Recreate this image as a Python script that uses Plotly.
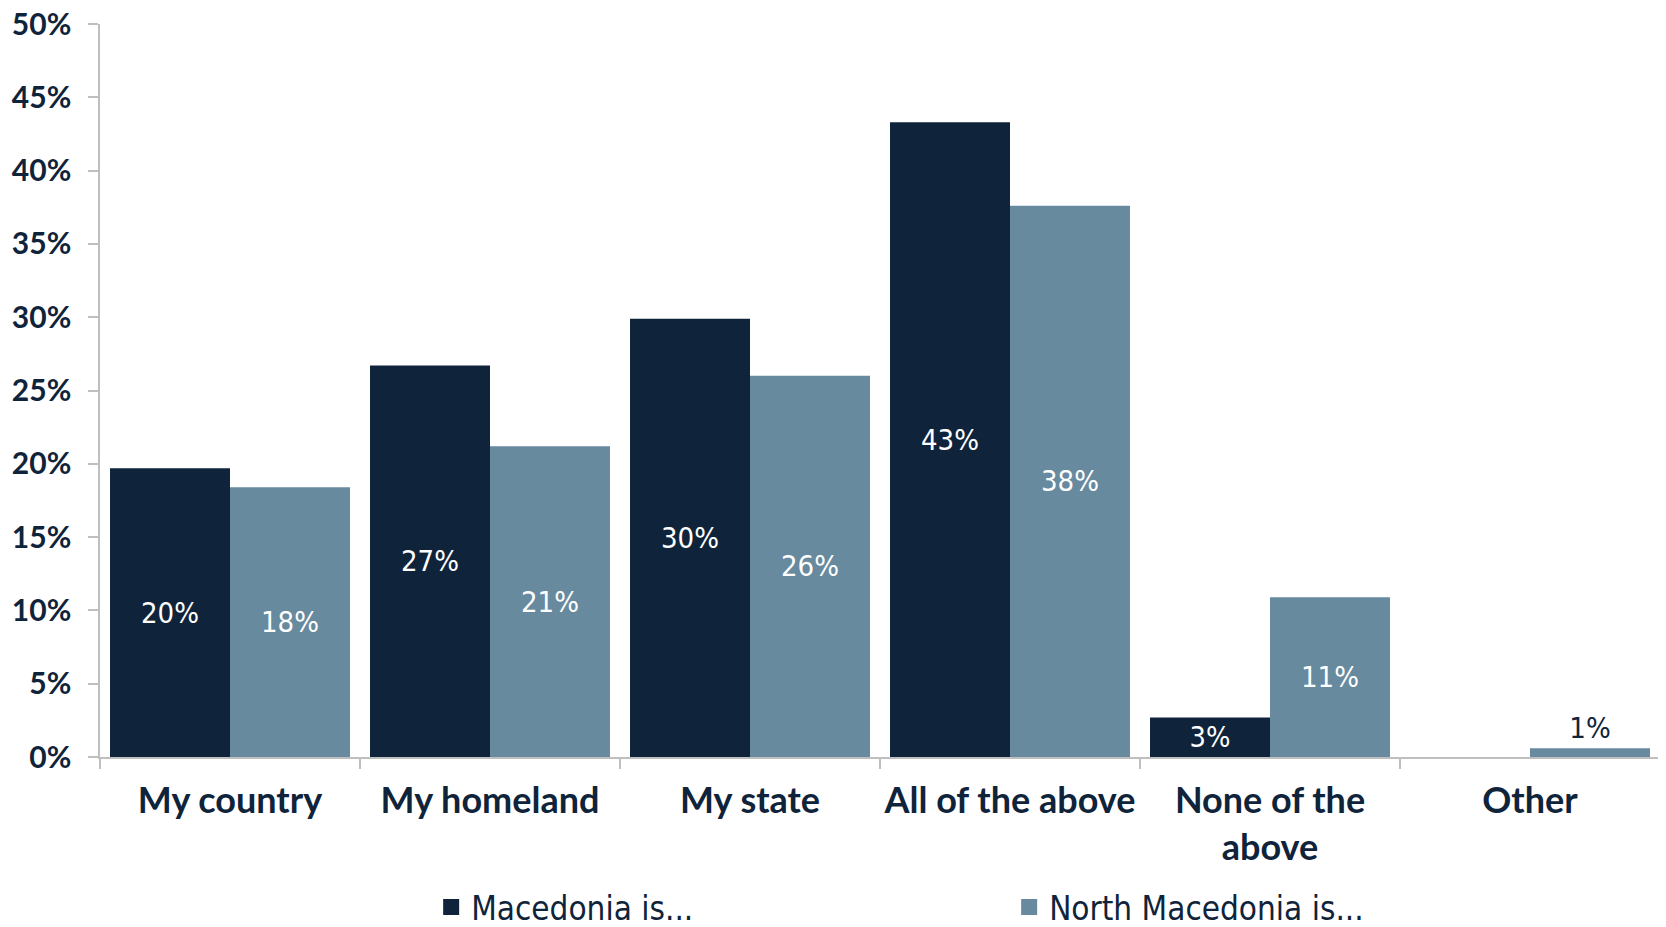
import plotly.graph_objects as go

categories = ["My country", "My homeland", "My state", "All of the above", "None of the<br>above", "Other"]
macedonia = [19.7, 26.7, 29.9, 43.3, 2.7, 0.0]
north_macedonia = [18.4, 21.2, 26.0, 37.6, 10.9, 0.6]
series_names = ["Macedonia is...", "North Macedonia is..."]
y_ticks = [0, 5, 10, 15, 20, 25, 30, 35, 40, 45, 50]

DARK = "#0F243B"
LIGHT = "#678A9E"
NARROW = "Liberation Sans Narrow, DejaVu Sans Condensed, sans-serif"
BOLD = "Lato, Open Sans, sans-serif"

def labels(vals):
    return ["" if v == 0 else f"{round(v)}%" for v in vals]

fig = go.Figure()
fig.add_trace(go.Bar(
    x=categories, y=macedonia, name=series_names[0], showlegend=False,
    marker=dict(color=DARK, line=dict(width=0)),
    text=labels(macedonia), textposition="inside", insidetextanchor="middle",
    textangle=0,
    insidetextfont=dict(family=NARROW, size=29, color="white"),
    cliponaxis=False,
))
fig.add_trace(go.Bar(
    x=categories, y=north_macedonia, name=series_names[1], showlegend=False,
    marker=dict(color=LIGHT, line=dict(width=0)),
    text=labels(north_macedonia),
    textposition=["inside"] * 5 + ["outside"], insidetextanchor="middle",
    textangle=0,
    insidetextfont=dict(family=NARROW, size=29, color="white"),
    outsidetextfont=dict(family=NARROW, size=29, color=DARK),
    cliponaxis=False,
))
# legend entries with larger square swatches
for name, color in zip(series_names, [DARK, LIGHT]):
    fig.add_trace(go.Scatter(
        x=[None], y=[None], mode="markers", name=name,
        marker=dict(symbol="square", size=19, color=color),
    ))

fig.update_layout(
    width=1666, height=927,
    margin=dict(l=92, r=14, t=16, b=178),
    paper_bgcolor="white", plot_bgcolor="white",
    barmode="group", bargap=0.077, bargroupgap=0,
    showlegend=True,
    legend=dict(
        orientation="h", xref="container", yref="container",
        x=0.254, xanchor="left", y=0.0, yanchor="bottom",
        font=dict(family=NARROW, size=33, color=DARK),
        entrywidth=533, itemwidth=30, itemsizing="trace",
    ),
    font=dict(family=BOLD, color=DARK),
)
fig.update_yaxes(
    range=[0, 50], tickvals=y_ticks, ticktext=[f"{t}%" for t in y_ticks],
    showgrid=False, zeroline=False, automargin=False,
    showline=True, linecolor="#BFBFBF", linewidth=1.5,
    ticks="outside", ticklen=10, tickcolor="#BFBFBF", tickwidth=1.5,
    ticklabelstandoff=11, ticklabeloverflow="allow",
    tickfont=dict(family=BOLD, size=30, color=DARK, weight="bold"),
)
fig.update_xaxes(
    range=[-0.5, 5.5], tickangle=0,
    showgrid=False, zeroline=False, automargin=False,
    showline=True, linecolor="#BFBFBF", linewidth=1.5,
    ticks="outside", ticklen=10, tickcolor="#BFBFBF", tickwidth=1.5,
    tickson="boundaries", ticklabelstandoff=11,
    tickfont=dict(family=BOLD, size=36, color=DARK, weight="bold"),
)

fig.write_html("out.html")
